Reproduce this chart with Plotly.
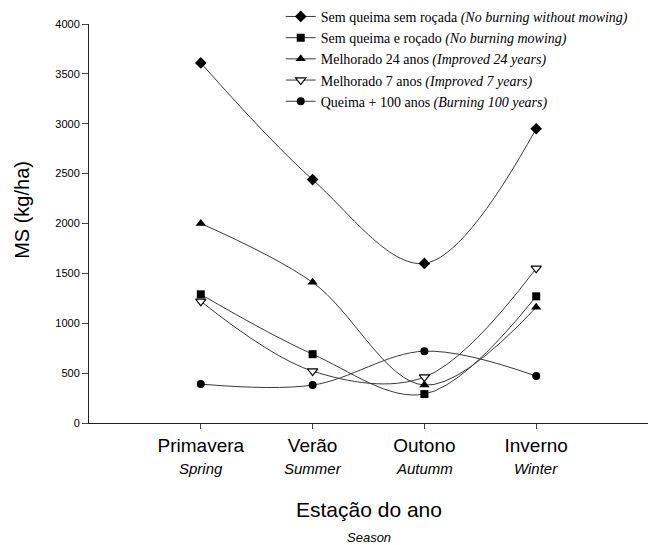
import plotly.graph_objects as go

seasons_pt = ["Primavera", "Verão", "Outono", "Inverno"]
seasons_en = ["Spring", "Summer", "Autumm", "Winter"]

series_names = [
    "Sem queima sem roçada <i>(No burning without mowing)</i>",
    "Sem queima e roçado <i>(No burning mowing)</i>",
    "Melhorado 24 anos <i>(Improved 24 years)</i>",
    "Melhorado 7 anos <i>(Improved 7 years)</i>",
    "Queima + 100 anos <i>(Burning 100 years)</i>",
]
sem_queima_sem_rocada = [3610, 2440, 1600, 2950]
sem_queima_rocado = [1290, 690, 290, 1270]
melhorado_24 = [2000, 1410, 380, 1160]
melhorado_7 = [1220, 520, 460, 1550]
queima_100 = [390, 380, 720, 470]

y_ticks = [0, 500, 1000, 1500, 2000, 2500, 3000, 3500, 4000]

values = [sem_queima_sem_rocada, sem_queima_rocado, melhorado_24, melhorado_7, queima_100]
symbols = ["diamond", "square", "triangle-up", "triangle-down", "circle"]
fills = ["black", "black", "black", "white", "black"]
sizes = [9, 8, 9, 9, 8]

xidx = list(range(len(seasons_pt)))

fig = go.Figure()
for i, (name, vals) in enumerate(zip(series_names, values)):
    fig.add_trace(go.Scatter(
        x=xidx, y=vals, name=name, mode="lines+markers",
        line=dict(shape="spline", smoothing=1.0, color="#3a3a3a", width=1),
        marker=dict(symbol=symbols[i], size=sizes[i], color=fills[i],
                    line=dict(color="black", width=1.2 if fills[i] == "white" else 0)),
        legendgroup=str(i),
    ))

annotations = []
for i, en in enumerate(seasons_en):
    annotations.append(dict(x=i, y=-0.115, xref="x", yref="paper", text=f"<i>{en}</i>",
                            showarrow=False, font=dict(family="Liberation Sans", size=15, color="black"),
                            xanchor="center", yanchor="middle"))
annotations.append(dict(x=1.5, y=-0.218, xref="x", yref="paper", text="Estação do ano",
                        showarrow=False, font=dict(family="Liberation Sans", size=21, color="black"),
                        xanchor="center", yanchor="middle"))
annotations.append(dict(x=1.5, y=-0.286, xref="x", yref="paper", text="<i>Season</i>",
                        showarrow=False, font=dict(family="Liberation Sans", size=13, color="black"),
                        xanchor="center", yanchor="middle"))
annotations.append(dict(x=-0.12, y=0.534, xref="paper", yref="paper", text="MS (kg/ha)",
                        textangle=-90, showarrow=False,
                        font=dict(family="Liberation Sans", size=20, color="black"),
                        xanchor="center", yanchor="middle"))

fig.update_layout(
    width=648, height=545,
    margin=dict(l=89, r=0, t=24, b=122),
    paper_bgcolor="white", plot_bgcolor="white",
    font=dict(family="Liberation Sans", color="black"),
    showlegend=True,
    legend=dict(x=0.343, y=1.058, xanchor="left", yanchor="top",
                font=dict(family="Liberation Serif", size=14, color="black"),
                bgcolor="rgba(0,0,0,0)", tracegroupgap=0, itemwidth=30),
    xaxis=dict(range=[-1, 4], tickvals=xidx, ticktext=seasons_pt,
               showgrid=False, zeroline=False, showline=True, linecolor="#222", linewidth=1,
               ticks="outside", ticklen=5, tickcolor="#444",
               tickfont=dict(family="Liberation Sans", size=19, color="black")),
    yaxis=dict(range=[0, 4000], tickvals=y_ticks, ticktext=[str(v) for v in y_ticks],
               showgrid=False, zeroline=False, showline=True, linecolor="#222", linewidth=1,
               ticks="outside", ticklen=6, tickcolor="#444",
               tickfont=dict(family="Liberation Sans", size=11, color="black")),
    annotations=annotations,
)

fig.write_html("out.html", config={"displayModeBar": False},
               post_script="document.body.style.margin='0';")
